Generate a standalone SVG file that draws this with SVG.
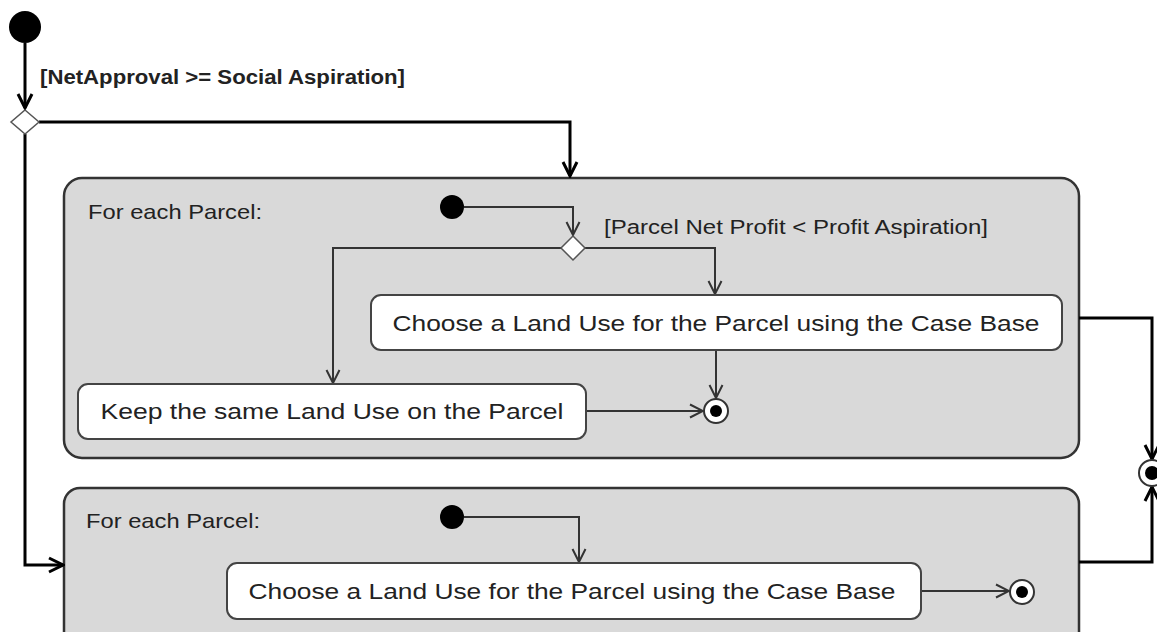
<svg xmlns="http://www.w3.org/2000/svg" width="1157" height="632" viewBox="0 0 1157 632">
<defs>
<style>
.region{fill:#d9d9d9;stroke:#333;stroke-width:2.5}
.act{fill:#fff;stroke:#444;stroke-width:2}
.init{fill:#000}
.dec{fill:#fff;stroke:#555;stroke-width:1.5}
.fin{fill:#fff;stroke:#333;stroke-width:2}
.finc{fill:#000}
.outer{fill:none;stroke:#000;stroke-width:3}
.inner{fill:none;stroke:#333;stroke-width:2}
.lbl{font-family:"Liberation Sans",Arial,sans-serif;fill:#222}
</style>
<marker id="arrO" viewBox="0 0 18 18" refX="16" refY="9" markerWidth="18" markerHeight="18" markerUnits="userSpaceOnUse" orient="auto">
<path d="M2,2 L16,9 L2,16" fill="none" stroke="#000" stroke-width="3"/>
</marker>
<marker id="arrI" viewBox="0 0 16 16" refX="14" refY="8" markerWidth="16" markerHeight="16" markerUnits="userSpaceOnUse" orient="auto">
<path d="M1,1.5 L14,8 L1,14.5" fill="none" stroke="#333" stroke-width="2"/>
</marker>
</defs>
<rect width="1157" height="632" fill="#fff"/>

<g id="region1">
<rect class="region" x="64" y="178" width="1015" height="280" rx="18"/>
<text class="lbl" x="88" y="219" font-size="21" textLength="174" lengthAdjust="spacingAndGlyphs">For each Parcel:</text>
</g>
<g id="region2">
<rect class="region" x="64" y="488" width="1015" height="165" rx="16"/>
<text class="lbl" x="86" y="528" font-size="21" textLength="174" lengthAdjust="spacingAndGlyphs">For each Parcel:</text>
</g>

<g id="connectors">
<path class="outer" d="M25,43 V108" marker-end="url(#arrO)"/>
<path class="outer" d="M39,122 H570 V176" marker-end="url(#arrO)"/>
<path class="outer" d="M25,134 V565 H63" marker-end="url(#arrO)"/>
<path class="inner" d="M464,207 H573 V235" marker-end="url(#arrI)"/>
<path class="inner" d="M561,248 H333 V383" marker-end="url(#arrI)"/>
<path class="inner" d="M585,248 H715 V294" marker-end="url(#arrI)"/>
<path class="inner" d="M716,350 V398" marker-end="url(#arrI)"/>
<path class="inner" d="M586,411 H703" marker-end="url(#arrI)"/>
<path class="outer" d="M1079,318 H1152 V459" marker-end="url(#arrO)"/>
<path class="outer" d="M1079,562 H1152 V487" marker-end="url(#arrO)"/>
<path class="inner" d="M464,517 H579 V562" marker-end="url(#arrI)"/>
<path class="inner" d="M921,591 H1009" marker-end="url(#arrI)"/>
<text class="lbl" x="40" y="84" font-size="20" font-weight="bold" fill="#000" textLength="365" lengthAdjust="spacingAndGlyphs">[NetApproval &gt;= Social Aspiration]</text>
<text class="lbl" x="604" y="234" font-size="20" textLength="384" lengthAdjust="spacingAndGlyphs">[Parcel Net Profit &lt; Profit Aspiration]</text>
</g>

<g id="start">
<circle class="init" cx="25" cy="27" r="16"/>
</g>
<g id="decision1">
<polygon class="dec" points="25,110 39,122 25,134 11,122"/>
</g>
<g id="start1">
<circle class="init" cx="452" cy="207" r="12"/>
</g>
<g id="decision2">
<polygon class="dec" points="573,236 585,248 573,260 561,248"/>
</g>
<g id="choose1">
<rect class="act" x="371" y="295" width="691" height="55" rx="10"/>
<text class="lbl" x="716" y="331" font-size="22" text-anchor="middle" textLength="647" lengthAdjust="spacingAndGlyphs">Choose a Land Use for the Parcel using the Case Base</text>
</g>
<g id="keep">
<rect class="act" x="78" y="384" width="508" height="55" rx="10"/>
<text class="lbl" x="332" y="419" font-size="22" text-anchor="middle" textLength="463" lengthAdjust="spacingAndGlyphs">Keep the same Land Use on the Parcel</text>
</g>
<g id="end1">
<circle class="fin" cx="716" cy="411" r="12"/>
<circle class="finc" cx="716" cy="411" r="6"/>
</g>
<g id="start2">
<circle class="init" cx="452" cy="517" r="12"/>
</g>
<g id="choose2">
<rect class="act" x="227" y="563" width="694" height="56" rx="10"/>
<text class="lbl" x="572" y="599" font-size="22" text-anchor="middle" textLength="647" lengthAdjust="spacingAndGlyphs">Choose a Land Use for the Parcel using the Case Base</text>
</g>
<g id="end2">
<circle class="fin" cx="1022" cy="592" r="12"/>
<circle class="finc" cx="1022" cy="592" r="6"/>
</g>
<g id="endOuter">
<circle class="fin" cx="1152" cy="473" r="13" stroke="#000" stroke-width="2.5"/>
<circle class="finc" cx="1152" cy="473" r="7"/>
</g>
</svg>
